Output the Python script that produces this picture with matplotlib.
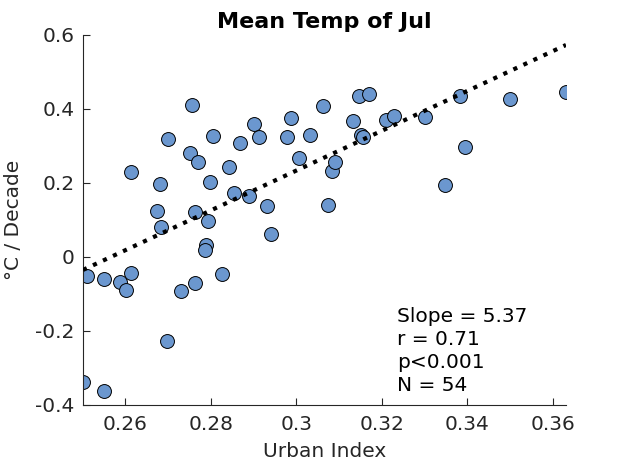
import numpy as np
import matplotlib
matplotlib.use("Agg")
import matplotlib.pyplot as plt

# urban index vs July mean temperature trend (deg C / decade)
urban = [0.2501, 0.2511, 0.2549, 0.2551, 0.2588, 0.2601, 0.2614, 0.2614, 0.2673,
         0.2680, 0.2684, 0.2698, 0.2700, 0.2731, 0.2752, 0.2755, 0.2763, 0.2763,
         0.2769, 0.2789, 0.2787, 0.2794, 0.2799, 0.2804, 0.2827, 0.2843, 0.2855,
         0.2869, 0.2890, 0.2900, 0.2912, 0.2932, 0.2941, 0.2979, 0.2988, 0.3006,
         0.3033, 0.3063, 0.3075, 0.3084, 0.3091, 0.3133, 0.3147, 0.3152, 0.3157,
         0.3171, 0.3211, 0.3228, 0.3302, 0.3348, 0.3384, 0.3395, 0.3501, 0.3631]
trend = [-0.337, -0.051, -0.361, -0.059, -0.068, -0.089, -0.043, 0.230, 0.124,
         0.198, 0.081, -0.227, 0.320, -0.092, 0.281, 0.411, 0.121, -0.070,
         0.257, 0.033, 0.020, 0.098, 0.203, 0.328, -0.046, 0.244, 0.174,
         0.308, 0.165, 0.359, 0.324, 0.138, 0.062, 0.324, 0.376, 0.268,
         0.330, 0.408, 0.140, 0.232, 0.258, 0.368, 0.435, 0.330, 0.324,
         0.441, 0.370, 0.381, 0.377, 0.195, 0.436, 0.297, 0.427, 0.446]
stats_txt = "Slope = 5.37\nr = 0.71\np<0.001\nN = 54"
xticks = [0.26, 0.28, 0.30, 0.32, 0.34, 0.36]
xticklabels = ["0.26", "0.28", "0.3", "0.32", "0.34", "0.36"]
yticks = [-0.4, -0.2, 0, 0.2, 0.4, 0.6]
yticklabels = ["-0.4", "-0.2", "0", "0.2", "0.4", "0.6"]

x = np.array(urban)
y = np.array(trend)
p = np.polyfit(x, y, 1)

grey = (0.15, 0.15, 0.15)
fig = plt.figure(figsize=(6.25, 4.69), dpi=100)
ax = fig.add_axes([0.1328, 0.1365, 0.7728, 0.7889])

xx = np.array([x.min(), x.max()])
ax.plot(xx, np.polyval(p, xx), ':', color='k', lw=3, zorder=3)
ax.scatter(x, y, s=100, c='#6b97cf', edgecolors='k', linewidths=0.7, zorder=2)

ax.set_xlim(x.min(), x.max())
ax.set_ylim(-0.4, 0.6)
ax.set_xticks(xticks)
ax.set_xticklabels(xticklabels)
ax.set_yticks(yticks)
ax.set_yticklabels(yticklabels)
ax.spines['top'].set_visible(False)
ax.spines['right'].set_visible(False)
for s in ['left', 'bottom']:
    ax.spines[s].set_color(grey)
    ax.spines[s].set_linewidth(0.8)
ax.tick_params(direction='in', length=5, width=0.8, colors=grey, labelsize=14.5)
ax.tick_params(axis='y', pad=6)
ax.tick_params(axis='x', pad=7)

ax.set_title("Mean Temp of Jul", fontsize=16, fontweight='bold', pad=5)
ax.set_xlabel("Urban Index", fontsize=14.5, color=grey, labelpad=6)
ax.set_ylabel("°C / Decade", fontsize=14.5, color=grey, labelpad=9)

ax.text(0.3236, -0.372, stats_txt, fontsize=14.5, va='bottom', ha='left',
        linespacing=1.25, color='k')

fig.savefig("out.png", dpi=100)
